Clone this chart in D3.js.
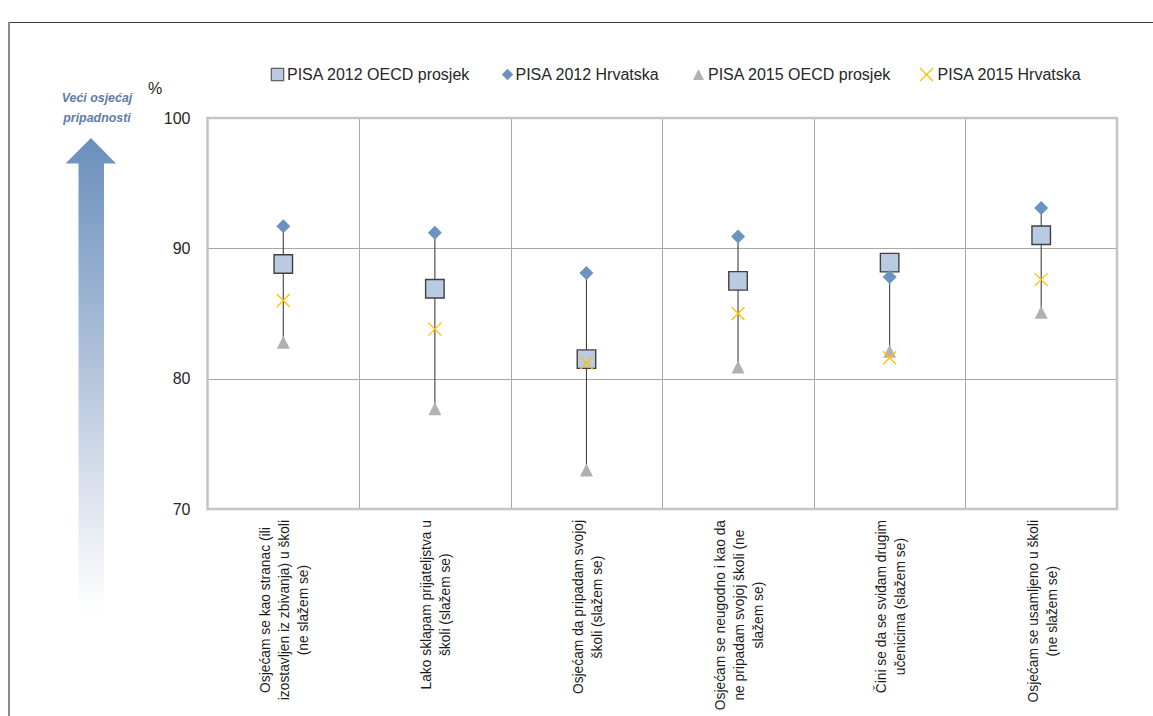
<!DOCTYPE html>
<html>
<head>
<meta charset="utf-8">
<script src="https://cdn.jsdelivr.net/npm/d3@7"></script>
<style>
  html, body { margin: 0; padding: 0; background: #fff; }
  svg { display: block; font-family: "Liberation Sans", Arial, sans-serif; }
</style>
</head>
<body>
<svg id="chart" width="1153" height="716"></svg>
<script>
// Categories (statements), each split into the lines shown under the axis
const categories = [
  "Osjećam se kao stranac (ili izostavljen iz zbivanja) u školi (ne slažem se)",
  "Lako sklapam prijateljstva u školi (slažem se)",
  "Osjećam da pripadam svojoj školi (slažem se)",
  "Osjećam se neugodno i kao da ne pripadam svojoj školi (ne slažem se)",
  "Čini se da se sviđam drugim učenicima (slažem se)",
  "Osjećam se usamljeno u školi (ne slažem se)"
];
const categoryLines = [
  ["Osjećam se kao stranac (ili", "izostavljen iz zbivanja) u školi", "(ne slažem se)"],
  ["Lako sklapam prijateljstva u", "školi (slažem se)"],
  ["Osjećam da pripadam svojoj", "školi (slažem se)"],
  ["Osjećam se neugodno i kao da", "ne pripadam svojoj školi (ne", "slažem se)"],
  ["Čini se da se sviđam drugim", "učenicima (slažem se)"],
  ["Osjećam se usamljeno u školi", "(ne slažem se)"]
];

// Series values (%)
const oecd2012 = [88.8, 86.9, 81.5, 87.5, 88.9, 91.0];
const hrv2012  = [91.7, 91.2, 88.1, 90.9, 87.8, 93.1];
const oecd2015 = [82.8, 77.7, 73.0, 80.9, 82.1, 85.1];
const hrv2015  = [86.0, 83.8, 81.2, 85.0, 81.6, 87.6];

const seriesNames = ["PISA 2012 OECD prosjek", "PISA 2012 Hrvatska", "PISA 2015 OECD prosjek", "PISA 2015 Hrvatska"];
const yTicks = [70, 80, 90, 100];

const svg = d3.select("#chart");

const plot = { left: 207.5, right: 1117, top: 118, bottom: 509 };

const x = d3.scaleBand().domain(categories).range([plot.left, plot.right]);
const y = d3.scaleLinear().domain([70, 100]).range([plot.bottom, plot.top]);
const cx = c => x(c) + x.bandwidth() / 2;

// Marker shapes
const markerPath = {
  square: s => `M${-s/2},${-s/2}h${s}v${s}h${-s}Z`,
  diamond: s => `M0,${-s/2}L${s/2},0L0,${s/2}L${-s/2},0Z`,
  triangle: s => `M0,${-s/2}L${s/2},${s/2}L${-s/2},${s/2}Z`,
  cross: s => `M${-s/2},${-s/2}L${s/2},${s/2}M${s/2},${-s/2}L${-s/2},${s/2}`
};
const styles = [
  { shape: "square",   size: 18.5, fill: "#B9CAE2", stroke: "#404040", sw: 1.4 },
  { shape: "diamond",  size: 14,   fill: "#6C93C0", stroke: "none",    sw: 0 },
  { shape: "triangle", size: 13,   fill: "#B1B1B5", stroke: "none",    sw: 0 },
  { shape: "cross",    size: 13,   fill: "none",    stroke: "#FFC000", sw: 1.3 }
];
const seriesValues = [oecd2012, hrv2012, oecd2015, hrv2015];

// Page frame
svg.append("line").attr("x1", 9).attr("x2", 1153).attr("y1", 22.5).attr("y2", 22.5)
  .attr("stroke", "#3a3a3a").attr("stroke-width", 1);
svg.append("line").attr("x1", 9).attr("x2", 9).attr("y1", 22).attr("y2", 716)
  .attr("stroke", "#8a8a8a").attr("stroke-width", 2);

// Gradient arrow on the left
const defs = svg.append("defs");
const grad = defs.append("linearGradient").attr("id", "arrowGrad")
  .attr("gradientUnits", "userSpaceOnUse").attr("x1", 0).attr("x2", 0).attr("y1", 138).attr("y2", 612);
grad.append("stop").attr("offset", 0).attr("stop-color", "#6A8FBC");
grad.append("stop").attr("offset", 0.35).attr("stop-color", "#9DB4D2");
grad.append("stop").attr("offset", 0.75).attr("stop-color", "#DCE3EE");
grad.append("stop").attr("offset", 1).attr("stop-color", "#FFFFFF");
svg.append("path")
  .attr("d", "M91,138L116,163.5L104,163.5L104,612L78.5,612L78.5,163.5L65.5,163.5Z")
  .attr("fill", "url(#arrowGrad)");

svg.append("text").attr("x", 97).attr("y", 98).attr("text-anchor", "middle").attr("dominant-baseline", "central")
  .attr("font-size", 12.4).attr("font-weight", "bold").attr("font-style", "italic").attr("fill", "#5E7CA5")
  .text("Veći osjećaj");
svg.append("text").attr("x", 97).attr("y", 118).attr("text-anchor", "middle").attr("dominant-baseline", "central")
  .attr("font-size", 12.4).attr("font-weight", "bold").attr("font-style", "italic").attr("fill", "#5E7CA5")
  .text("pripadnosti");

// Gridlines
const grid = svg.append("g");
grid.selectAll("line.h").data(yTicks.filter(t => t > 70 && t < 100)).join("line")
  .attr("x1", plot.left).attr("x2", plot.right)
  .attr("y1", d => Math.round(y(d)) + 0.5).attr("y2", d => Math.round(y(d)) + 0.5)
  .attr("stroke", "#A8A8A8").attr("stroke-width", 1);
grid.selectAll("line.v").data(categories.slice(1)).join("line")
  .attr("x1", d => Math.round(x(d)) + 0.5).attr("x2", d => Math.round(x(d)) + 0.5)
  .attr("y1", plot.top).attr("y2", plot.bottom)
  .attr("stroke", "#A8A8A8").attr("stroke-width", 1);

// Plot border
svg.append("rect").attr("x", plot.left).attr("y", plot.top)
  .attr("width", plot.right - plot.left).attr("height", plot.bottom - plot.top)
  .attr("fill", "none").attr("stroke", "#C4C4C4").attr("stroke-width", 2.5);

// Y axis labels
const yAxis = d3.axisLeft(y).tickValues(yTicks).tickSize(0).tickPadding(17);
const yg = svg.append("g").attr("transform", `translate(${plot.left},0)`).call(yAxis);
yg.select(".domain").remove();
yg.selectAll("text").attr("font-size", 16).attr("fill", "#262626")
  .attr("font-family", "'Liberation Sans', Arial, sans-serif");
svg.append("text").attr("x", 148).attr("y", 88).attr("dominant-baseline", "central")
  .attr("font-size", 16).attr("fill", "#262626").text("%");

// High-low lines
const rows = categories.map((c, i) => {
  const vals = seriesValues.map(s => s[i]);
  return { c, hi: d3.max(vals), lo: d3.min(vals) };
});
svg.append("g").selectAll("line").data(rows).join("line")
  .attr("x1", d => cx(d.c)).attr("x2", d => cx(d.c))
  .attr("y1", d => y(d.hi)).attr("y2", d => y(d.lo))
  .attr("stroke", "#404040").attr("stroke-width", 1.1);

// Markers, drawn in series order
seriesValues.forEach((vals, si) => {
  const st = styles[si];
  svg.append("g").selectAll("path").data(vals).join("path")
    .attr("transform", (v, i) => `translate(${cx(categories[i])},${y(v)})`)
    .attr("d", markerPath[st.shape](st.size))
    .attr("fill", st.fill).attr("stroke", st.stroke).attr("stroke-width", st.sw);
});

// Legend
const legendItems = [
  { mx: 277.5, tx: 287, size: 12.5 },
  { mx: 507.5, tx: 515.5, size: 11.5 },
  { mx: 698.5, tx: 708, size: 11 },
  { mx: 926.5, tx: 937.5, size: 13 }
];
const lg = svg.append("g");
legendItems.forEach((it, i) => {
  const st = styles[i];
  lg.append("path").attr("transform", `translate(${it.mx},74.5)`)
    .attr("d", markerPath[st.shape](it.size))
    .attr("fill", st.fill).attr("stroke", st.stroke)
    .attr("stroke-width", i === 0 ? 1 : st.sw);
  lg.append("text").attr("x", it.tx).attr("y", 74.5).attr("dominant-baseline", "central")
    .attr("font-size", 16).attr("fill", "#262626").text(seriesNames[i]);
});

// Category labels, rotated, centred block hanging from the top
const labelTop = 520;
const lineGap = 19;
categories.forEach((c, i) => {
  const lines = categoryLines[i];
  const g = svg.append("g").attr("transform", `translate(${cx(c) + 1.5},${labelTop}) rotate(-90)`);
  const texts = g.selectAll("text").data(lines).join("text")
    .attr("y", (d, k) => (k - (lines.length - 1) / 2) * lineGap)
    .attr("dominant-baseline", "central")
    .attr("text-anchor", "middle")
    .attr("font-size", 13.8).attr("fill", "#1a1a1a")
    .text(d => d);
  const maxLen = d3.max(texts.nodes(), n => n.getComputedTextLength());
  texts.attr("x", -maxLen / 2);
});
</script>
</body>
</html>
